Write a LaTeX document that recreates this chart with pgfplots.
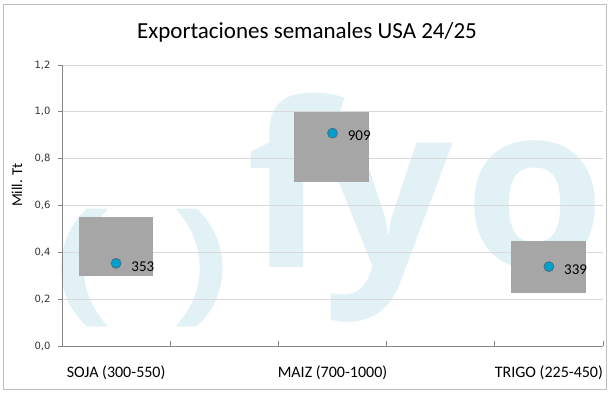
\documentclass[border=0pt]{standalone}
\usepackage{fontspec}
\setmainfont{Carlito}
\newfontfamily\dejavu{DejaVu Sans}
\newfontfamily\wmfont{Open Sans}
\usepackage{pgfplots}
\pgfplotsset{compat=1.18}
\definecolor{boxgray}{RGB}{166,166,166}
\definecolor{ptblue}{RGB}{0,160,204}
\definecolor{ptedge}{RGB}{80,100,110}
\definecolor{gridc}{RGB}{217,217,217}
\definecolor{axisc}{RGB}{134,134,134}
\definecolor{wm}{RGB}{226,241,245}
\definecolor{framec}{RGB}{191,191,191}
\definecolor{tickc}{RGB}{50,50,50}
\pgfplotsset{frameaxis/.style={at={(62bp,50bp)}, anchor=south west,
  scale only axis, width=541bp, height=281bp,
  xmin=-0.25, xmax=2.25, ymin=0, ymax=1.2}}
\begin{document}
\begin{tikzpicture}
\path (0bp,0bp) rectangle (616bp,396bp);
\draw[framec, line width=1bp] (3bp,6bp) rectangle (606bp,391bp);
\node[font=\fontsize{23bp}{27bp}\selectfont, anchor=center] at (307bp,364bp) {Exportaciones semanales USA 24/25};
\node[font=\fontsize{15bp}{17bp}\selectfont, rotate=90, anchor=center] at (17bp,211bp) {Mill. Tt};
% watermark layer (behind the grid)
\begin{axis}[frameaxis, hide axis, clip=false]
\node[wm, font=\wmfont\bfseries\fontsize{228bp}{240bp}\selectfont, anchor=base west, inner sep=0pt] at (axis cs:0.60,0.337) {f};
\node[wm, font=\wmfont\bfseries\fontsize{228bp}{240bp}\selectfont, anchor=base west, inner sep=0pt] at (axis cs:0.956,0.337) {y};
\node[wm, font=\wmfont\bfseries\fontsize{228bp}{240bp}\selectfont, anchor=base east, inner sep=0pt] at (axis cs:2.262,0.337) {o};
\node[wm, font=\wmfont\bfseries\fontsize{135bp}{150bp}\selectfont, anchor=center, inner sep=0pt, xscale=1.3] at (axis cs:-0.148,0.333) {(};
\node[wm, font=\wmfont\bfseries\fontsize{135bp}{150bp}\selectfont, anchor=center, inner sep=0pt, xscale=1.3] at (axis cs:0.388,0.333) {)};
\end{axis}
\begin{axis}[
  frameaxis,
  axis x line*=bottom, axis y line*=left,
  axis line style={axisc, line width=0.9bp},
  tick align=inside,
  major tick length=4.5bp,
  tick style={axisc, line width=0.8bp},
  ytick style={xshift=-4.5bp},
  ytick={0,0.2,0.4,0.6,0.8,1.0,1.2},
  yticklabel style={font=\dejavu\fontsize{10bp}{12bp}\selectfont, text=tickc, xshift=-8bp,
    /pgf/number format/use comma, /pgf/number format/fixed, /pgf/number format/fixed zerofill,
    /pgf/number format/precision=1, /pgf/number format/assume math mode=true},
  ymajorgrids,
  major grid style={gridc, line width=0.8bp},
  xtick={0.25,0.75,1.25,1.75,2.25},
  xticklabels={},
  extra x ticks={0,1,2},
  extra x tick labels={SOJA (300-550), MAIZ (700-1000), TRIGO (225-450)},
  extra x tick style={major tick length=0pt, xticklabel style={font=\fontsize{16bp}{18bp}\selectfont, anchor=center, yshift=-27bp, text=black}},
  clip=false,
]
% range boxes
\addplot[fill=boxgray, draw=none] coordinates {(-0.171,0.30) (0.171,0.30) (0.171,0.55) (-0.171,0.55)} --cycle;
\addplot[fill=boxgray, draw=none] coordinates {(0.824,0.70) (1.168,0.70) (1.168,1.00) (0.824,1.00)} --cycle;
\addplot[fill=boxgray, draw=none] coordinates {(1.827,0.225) (2.171,0.225) (2.171,0.45) (1.827,0.45)} --cycle;
% weekly values
\addplot[only marks, mark=*, mark size=5bp, mark options={fill=ptblue, draw=ptedge, line width=0.6bp},
  nodes near coords, point meta=explicit symbolic,
  every node near coord/.append style={anchor=west, inner sep=0pt, xshift=15bp, yshift=-3bp, font=\fontsize{15bp}{17bp}\selectfont, text=black}]
  table[meta=lab] {
x y lab
0 0.353 353
1 0.909 909
2 0.339 339
};
\end{axis}
\end{tikzpicture}
\end{document}
